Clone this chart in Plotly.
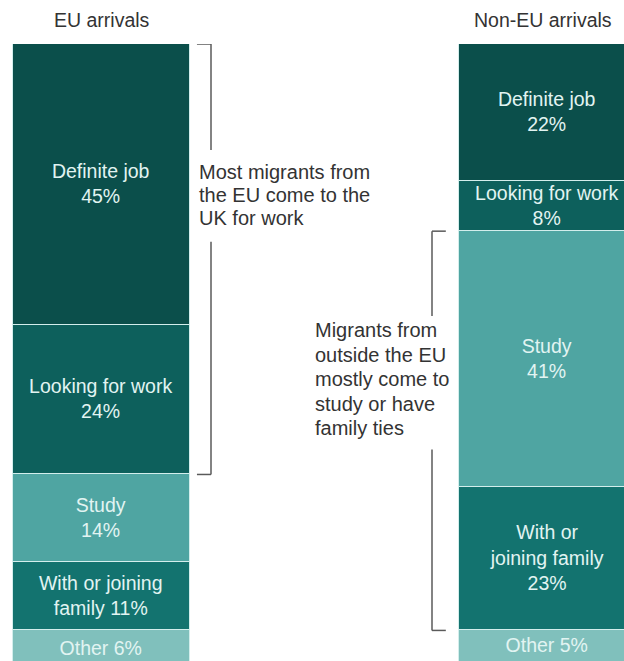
import plotly.graph_objects as go

# Reasons for arriving in the UK, share of arrivals (%)
groups = ["EU arrivals", "Non-EU arrivals"]
reasons = ["Definite job", "Looking for work", "Study", "With or joining family", "Other"]
eu_share = [45, 24, 14, 11, 6]
non_eu_share = [22, 8, 41, 23, 5]

# Segment labels, with line breaks chosen to fit each bar
eu_labels = ["Definite job", "Looking for work", "Study", "With or joining<br>family", "Other"]
non_eu_labels = ["Definite job", "Looking for work", "Study", "With or<br>joining family", "Other"]
eu_inline_pct = [False, False, False, True, True]
non_eu_inline_pct = [False, False, False, False, True]

eu_note = ["Most migrants from", "the EU come to the", "UK for work"]
non_eu_note = ["Migrants from", "outside the EU", "mostly come to", "study or have", "family ties"]

colors = ["#0b4f4b", "#0d605c", "#4fa5a2", "#13736f", "#80c0bc"]

W, H = 624, 661
TOP = 44
BAR_W = 0.397
X_RANGE = [-0.2276, 1.1715]
Y_RANGE = [98.9, 0]  # stacked downward from the top edge
FONT = "Liberation Sans, Arial, Helvetica, sans-serif"


def label(name, value, inline):
    return f"{name} {value}%" if inline else f"{name}<br>{value}%"


fig = go.Figure()
for i, reason in enumerate(reasons):
    fig.add_trace(go.Bar(
        x=[0, 1],
        y=[eu_share[i], non_eu_share[i]],
        name=reason,
        width=BAR_W,
        marker=dict(color=colors[i], line=dict(color="#d3eeec", width=1.5)),
        text=[label(eu_labels[i], eu_share[i], eu_inline_pct[i]),
              label(non_eu_labels[i], non_eu_share[i], non_eu_inline_pct[i])],
        textposition="inside",
        insidetextanchor="middle",
        textangle=0,
        textfont=dict(family=FONT, size=19.5, color="#e2f4f2"),
        hoverinfo="skip",
        cliponaxis=True,
    ))

# Bracket extents follow the cumulative shares of the grouped reasons
eu_work_end = eu_share[0] + eu_share[1]
non_eu_start = non_eu_share[0] + non_eu_share[1]
non_eu_end = non_eu_start + non_eu_share[2] + non_eu_share[3]

line = dict(color="#5a5a5a", width=1.5)

# EU bracket (right of the EU bar)
bx, bx_in = 0.2455, 0.214
for seg in [((bx_in, 0), (bx, 0)), ((bx, 0), (bx, 17)), ((bx, 31.7), (bx, eu_work_end)),
            ((bx, eu_work_end), (bx_in, eu_work_end))]:
    (x0, y0), (x1, y1) = seg
    fig.add_shape(type="line", x0=x0, y0=y0, x1=x1, y1=y1, xref="x", yref="y", line=line)

# Non-EU bracket (left of the Non-EU bar)
nx, nx_in = 0.741, 0.772
for seg in [((nx_in, non_eu_start), (nx, non_eu_start)), ((nx, non_eu_start), (nx, 43.6)),
            ((nx, 65), (nx, non_eu_end)), ((nx, non_eu_end), (nx_in, non_eu_end))]:
    (x0, y0), (x1, y1) = seg
    fig.add_shape(type="line", x0=x0, y0=y0, x1=x1, y1=y1, xref="x", yref="y", line=line)

note_font = dict(family=FONT, size=20, color="#333333")
title_font = dict(family=FONT, size=19.5, color="#333333")


def py(px):
    # pixel row -> paper y of the plot area
    return (H - px) / (H - TOP)


# Notes beside the brackets, one line per annotation for tighter leading
for k, txt in enumerate(eu_note):
    fig.add_annotation(x=197 / W, y=py(172 + 23 * k), xref="paper", yref="paper", text=txt,
                       showarrow=False, xanchor="left", yanchor="middle", align="left", font=note_font)
for k, txt in enumerate(non_eu_note):
    fig.add_annotation(x=313 / W, y=py(330 + 24.5 * k), xref="paper", yref="paper", text=txt,
                       showarrow=False, xanchor="left", yanchor="middle", align="left", font=note_font)

fig.add_annotation(x=0, y=py(20), xref="x", yref="paper", text=groups[0],
                   showarrow=False, xanchor="center", yanchor="middle", font=title_font)
fig.add_annotation(x=0.99, y=py(20), xref="x", yref="paper", text=groups[1],
                   showarrow=False, xanchor="center", yanchor="middle", font=title_font)

fig.update_layout(
    width=W, height=H,
    margin=dict(l=0, r=0, t=TOP, b=0),
    barmode="stack",
    bargap=0,
    showlegend=False,
    paper_bgcolor="white",
    plot_bgcolor="white",
    uniformtext=dict(minsize=19.5, mode="show"),
    xaxis=dict(range=X_RANGE, visible=False, fixedrange=True),
    yaxis=dict(range=Y_RANGE, visible=False, fixedrange=True),
)

fig.write_html("out.html", config={"displayModeBar": False})
